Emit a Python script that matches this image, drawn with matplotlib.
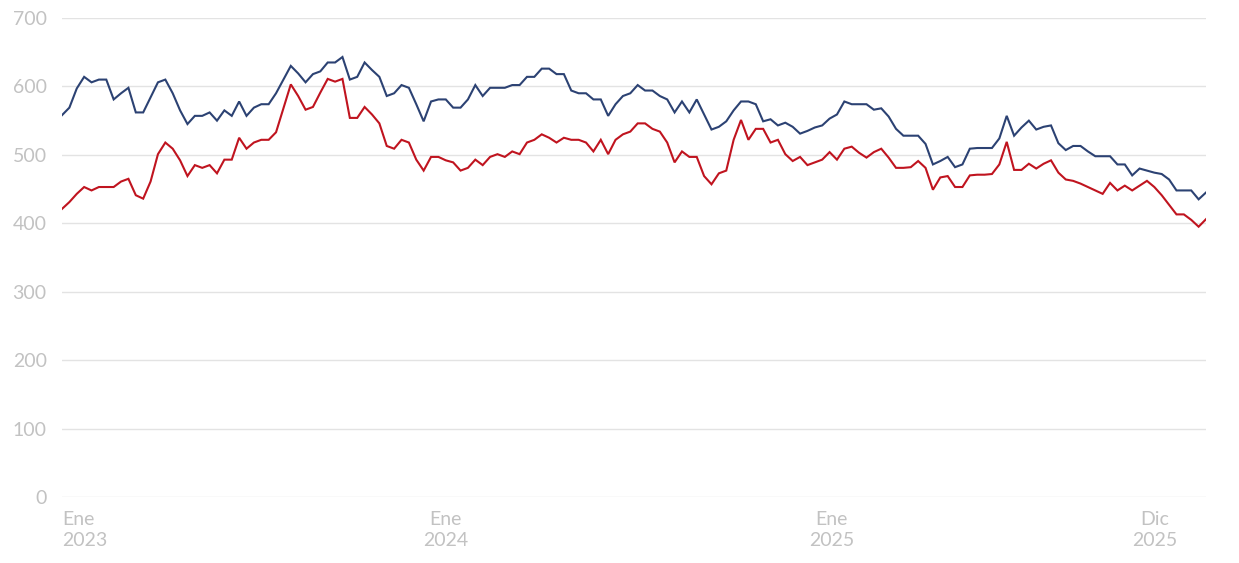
import matplotlib
matplotlib.use("Agg")
import matplotlib.pyplot as plt
import pandas as pd

plt.rcParams['font.family'] = ['Lato', 'DejaVu Sans']

start_date = "2023-01-02"

serie_azul = [
    558, 569, 597, 614, 606, 610, 610, 581, 590, 598, 562, 562, 584, 606, 610, 590, 565, 545, 557, 557, 562, 550, 565, 557, 578, 557, 569,
    574, 574, 590, 610, 630, 619, 606, 618, 622, 635, 635, 643, 610, 614, 635, 624, 614, 586, 590, 602, 598, 574, 549, 578, 581, 581,
    569, 569, 581, 602, 586, 598, 598, 598, 602, 602, 614, 614, 626, 626, 618, 618, 594, 590, 590, 581, 581, 557, 574, 586, 590, 602,
    594, 594, 586, 581, 562, 578, 562, 581, 559, 537, 541, 549, 565, 578, 578, 574, 549, 552, 543, 547, 541, 531, 535, 540, 543, 553, 559,
    578, 574, 574, 574, 566, 568, 556, 538, 528, 528, 528, 516, 486, 491, 497, 482, 486, 509, 510, 510, 510, 524, 557, 528, 540, 550,
    537, 541, 543, 517, 507, 513, 513, 505, 498, 498, 498, 486, 486, 470, 480, 477, 474, 472, 464, 448, 448, 448, 435, 445,
]

serie_roja = [
    421, 431, 443, 453, 448, 453, 453, 453, 461, 465, 441, 436, 461, 501, 518, 509, 492, 469, 485, 481, 485, 473, 493, 493, 525, 509, 518,
    522, 522, 533, 568, 603, 586, 566, 570, 591, 611, 607, 611, 554, 554, 570, 559, 546, 513, 509, 522, 518, 493, 477, 497, 497, 492,
    489, 477, 481, 493, 485, 497, 501, 497, 505, 501, 518, 522, 530, 525, 518, 525, 522, 522, 518, 505, 522, 501, 522, 530, 534, 546,
    546, 538, 534, 518, 489, 505, 497, 497, 469, 457, 473, 477, 522, 551, 522, 538, 538, 518, 522, 501, 491, 497, 485, 489, 493, 504, 493,
    509, 512, 503, 496, 504, 509, 496, 481, 481, 482, 491, 481, 449, 467, 469, 453, 453, 470, 471, 471, 472, 486, 519, 478, 478, 487,
    480, 487, 492, 474, 464, 462, 458, 453, 448, 443, 459, 448, 455, 448, 455, 462, 453, 441, 427, 413, 413, 405, 395, 406,
]

fechas = pd.date_range(start_date, periods=len(serie_azul), freq="7D")

tick_dates = [fechas[0], pd.Timestamp("2024-01-01"), pd.Timestamp("2025-01-01"), pd.Timestamp("2025-11-03")]
tick_labels = ["Ene\n2023", "Ene\n2024", "Ene\n2025", "Dic\n2025"]
y_ticks = [0, 100, 200, 300, 400, 500, 600, 700]

fig = plt.figure(figsize=(12.39, 5.63), dpi=100)
ax = fig.add_axes([62/1239, 1 - 497/563, (1206 - 62)/1239, (497 - 18)/563])

ax.plot(fechas, serie_azul, color="#2c4273", lw=1.5, solid_joinstyle="miter")
ax.plot(fechas, serie_roja, color="#c0141f", lw=1.5, solid_joinstyle="miter")

ax.set_xlim(fechas[0], fechas[-1])
ax.set_ylim(0, 700)
ax.set_yticks(y_ticks)
ax.set_yticklabels([str(v) for v in y_ticks])
ax.set_xticks(tick_dates)
ax.set_xticklabels(tick_labels, linespacing=1.3)
ax.get_xticklabels()[0].set_horizontalalignment("left")

ax.grid(axis="y", color="#e3e3e3", lw=1)
ax.set_axisbelow(True)
for s in ax.spines.values():
    s.set_visible(False)
ax.tick_params(axis="both", length=0, labelsize=14, labelcolor="#c2c2c2")
ax.tick_params(axis="y", pad=11)
ax.tick_params(axis="x", pad=10)

fig.savefig("out.png", dpi=100)
